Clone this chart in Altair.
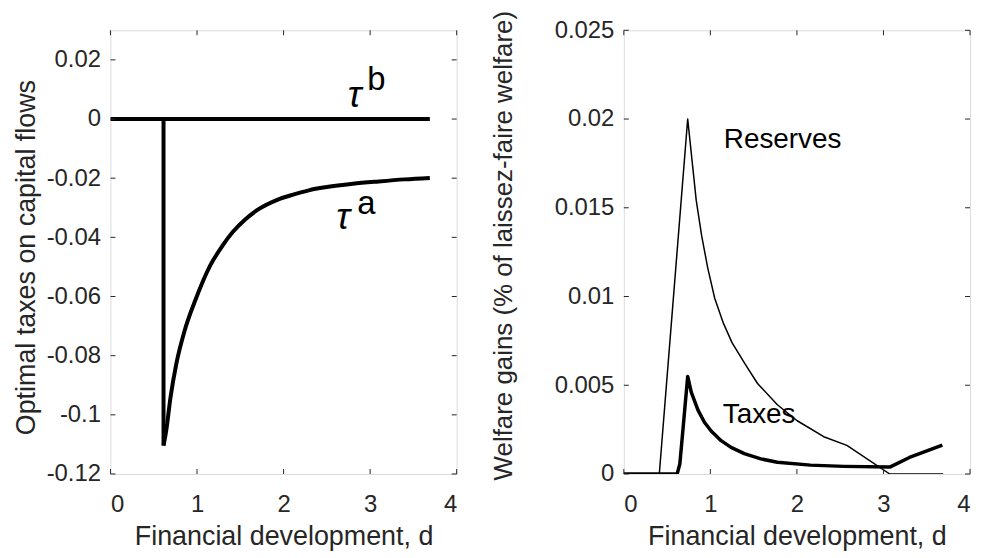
import altair as alt
import pandas as pd

# ---------------- data ----------------
x_ticks = [0, 1, 2, 3, 4]
left_y_ticks = [0.02, 0, -0.02, -0.04, -0.06, -0.08, -0.1, -0.12]
right_y_ticks = [0, 0.005, 0.01, 0.015, 0.02, 0.025]

tau_b_d = [0, 3.69]
tau_b_v = [0, 0]

tau_a_d = [0, 0.613, 0.613, 0.644, 0.693, 0.759, 0.854, 0.989, 1.153, 1.295, 1.41,
           1.563, 1.716, 1.927, 2.119, 2.291, 2.5, 2.8, 3.1, 3.4, 3.69]
tau_a_v = [0, 0, -0.1104, -0.1054, -0.0942, -0.083, -0.0718, -0.0606, -0.0495, -0.0428,
           -0.0383, -0.0338, -0.0304, -0.0273, -0.0255, -0.0241, -0.0230, -0.0219,
           -0.0211, -0.0204, -0.0199]

res_d = [0, 0.41, 0.738, 0.837, 0.9, 0.97, 1.05, 1.15, 1.25, 1.4, 1.545, 1.774, 2.003,
         2.31, 2.577, 3.073, 3.69]
res_v = [0, 0, 0.0200, 0.0154, 0.0134, 0.0116, 0.0099, 0.0085, 0.0074, 0.0062, 0.0051,
         0.0039, 0.0030, 0.0021, 0.00161, 0, 0]

tax_d = [0, 0.616, 0.647, 0.685, 0.738, 0.78, 0.857, 0.933, 1.009, 1.124, 1.239, 1.392,
         1.583, 1.774, 2.156, 2.54, 3.073, 3.3, 3.68]
tax_v = [0, 0, 0.00056, 0.0026, 0.0055, 0.0046, 0.0036, 0.0029, 0.00242, 0.00188,
         0.0015, 0.00115, 0.00085, 0.00066, 0.0005, 0.00043, 0.00039, 0.00093, 0.00163]

left_greek = ["τ", "τ"]
left_greek_d = [2.74, 2.61]
left_greek_v = [0.0041, -0.0372]
left_sup = ["b", "a"]
left_sup_d = [2.966, 2.85]
left_sup_v = [0.0098, -0.0321]

right_labels = ["Reserves", "Taxes"]
right_labels_d = [1.155, 1.143]
right_labels_v = [0.01837, 0.00287]

# ---------------- styling ----------------
W, H = 348, 446
TICK = 5
FONT = "Liberation Sans"
TXT = "#262626"


def frame(d, v):
    return pd.DataFrame({"d": d, "v": v, "i": list(range(len(d)))})


xscale = alt.Scale(domain=[0, 4], nice=False, zero=False)


def x_axis():
    return alt.Axis(values=x_ticks, title="Financial development, d", grid=False,
                    ticks=False, tickSize=0, domain=False, labelPadding=19,
                    labelFontSize=24, labelFont=FONT, labelColor=TXT,
                    labelExpr="toString(datum.value)",
                    titleFont=FONT, titleFontSize=27, titleFontWeight="normal",
                    titleColor=TXT, titleBaseline="alphabetic", titleY=71,
                    titleX=W / 2, titleAlign="center")


def y_axis(values, title, tx, ty, tsize):
    return alt.Axis(values=values, title=title, grid=False, ticks=False, tickSize=0,
                    domain=False, labelPadding=10, labelFontSize=24, labelFont=FONT,
                    labelColor=TXT, labelExpr="toString(datum.value)",
                    titleFont=FONT, titleFontSize=tsize, titleFontWeight="normal",
                    titleColor=TXT, titleAngle=270, titleBaseline="alphabetic",
                    titleAlign="center", titleX=tx, titleY=ty)


def panel(lines, texts, yscale, ytick_vals, ytitle, tx, ty, tsize):
    X = lambda: alt.X("d:Q", scale=xscale, axis=x_axis())
    Y = lambda: alt.Y("v:Q", scale=yscale,
                      axis=y_axis(ytick_vals, ytitle, tx, ty, tsize))
    layers = []
    for df, sw, interp in lines:
        layers.append(
            alt.Chart(df).mark_line(color="black", strokeWidth=sw, clip=True,
                                    strokeJoin="round", strokeCap="butt",
                                    interpolate=interp)
            .encode(x=X(), y=Y(), order="i:Q")
        )
    for df, size, style in texts:
        layers.append(
            alt.Chart(df).mark_text(align="left", baseline="alphabetic", font=FONT,
                                    fontSize=size, fontStyle=style, color="black")
            .encode(x=X(), y=Y(), text="label:N")
        )
    xt = pd.DataFrame({"d": x_ticks})
    yt = pd.DataFrame({"v": ytick_vals})
    layers.append(alt.Chart(xt).mark_rule(color=TXT, strokeWidth=1)
                  .encode(x=X(), y=alt.value(H), y2=alt.value(H - TICK)))
    layers.append(alt.Chart(xt).mark_rule(color=TXT, strokeWidth=1)
                  .encode(x=X(), y=alt.value(0), y2=alt.value(TICK)))
    layers.append(alt.Chart(yt).mark_rule(color=TXT, strokeWidth=1)
                  .encode(y=Y(), x=alt.value(0), x2=alt.value(TICK)))
    layers.append(alt.Chart(yt).mark_rule(color=TXT, strokeWidth=1)
                  .encode(y=Y(), x=alt.value(W), x2=alt.value(W - TICK)))
    return alt.layer(*layers).properties(width=W, height=H)


tau_a = frame(tau_a_d, tau_a_v)
left = panel(
    lines=[(frame(tau_b_d, tau_b_v), 4, "linear"),
           (tau_a.iloc[:3], 4, "linear"),
           (tau_a.iloc[2:], 4, "monotone")],
    texts=[
        (pd.DataFrame({"d": left_greek_d, "v": left_greek_v, "label": left_greek}), 37, "italic"),
        (pd.DataFrame({"d": left_sup_d, "v": left_sup_v, "label": left_sup}), 33, "normal"),
    ],
    yscale=alt.Scale(domain=[-0.12, 0.03], nice=False, zero=False),
    ytick_vals=left_y_ticks,
    ytitle="Optimal taxes on capital flows",
    tx=-76, ty=228, tsize=27,
)

right = panel(
    lines=[(frame(res_d, res_v), 1.5, "linear"), (frame(tax_d, tax_v), 3.5, "linear")],
    texts=[
        (pd.DataFrame({"d": right_labels_d, "v": right_labels_v, "label": right_labels}), 28, "normal"),
    ],
    yscale=alt.Scale(domain=[0, 0.025], nice=False, zero=False),
    ytick_vals=right_y_ticks,
    ytitle="Welfare gains (% of laissez-faire welfare)",
    tx=-113, ty=216, tsize=26,
)

chart = (
    alt.hconcat(left, right, spacing=168, bounds="flush")
    .properties(padding={"left": 4, "top": 0, "right": 5, "bottom": 0})
    .configure_view(stroke=TXT, strokeWidth=1)
    .configure(background="white")
)

chart.save("out.html", embed_options={"renderer": "svg", "actions": False})
